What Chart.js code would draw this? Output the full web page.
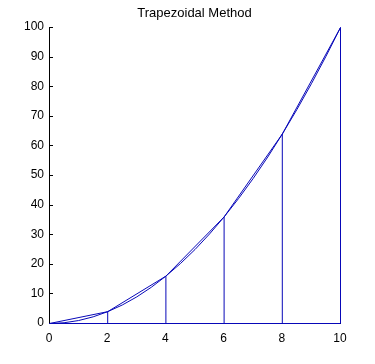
<!DOCTYPE html>
<html>
<head>
<meta charset="utf-8">
<script src="https://cdn.jsdelivr.net/npm/chart.js@4/dist/chart.umd.min.js"></script>
<style>
html,body{margin:0;padding:0;background:#fff;}
#wrap{width:375px;height:364px;position:relative;}
</style>
</head>
<body>
<div id="wrap"><canvas id="c" width="375" height="364"></canvas></div>
<script>
const chartTitle = "Trapezoidal Method";
const curveX = [0,0.5,1,1.5,2,2.5,3,3.5,4,4.5,5,5.5,6,6.5,7,7.5,8,8.5,9,9.5,10];
const curveY = [0,0.25,1,2.25,4,6.25,9,12.25,16,20.25,25,30.25,36,42.25,49,56.25,64,72.25,81,90.25,100];
const nodeX = [0,2,4,6,8,10];
const nodeY = [0,4,16,36,64,100];
const xTicks = [0,2,4,6,8,10];
const yTicks = [0,10,20,30,40,50,60,70,80,90,100];

const BLUE = '#0808b8';
const FONT = 'Liberation Sans, Arial, sans-serif';
const toPts = (xs, ys) => xs.map((x,i)=>({x:x, y:ys[i]}));

const vertPts = [];
nodeX.forEach((x,i)=>{ if(i>0){ vertPts.push({x:x,y:0}); vertPts.push({x:x,y:nodeY[i]}); vertPts.push({x:x,y:null}); } });
const basePts = [{x:nodeX[0],y:0},{x:nodeX[nodeX.length-1],y:0}];

const decor = {
  id:'decor',
  beforeDatasetsDraw(chart){
    const ctx = chart.ctx, ys = chart.scales.y, a = chart.chartArea;
    ctx.save();
    ctx.strokeStyle = '#000'; ctx.lineWidth = 1;
    ctx.beginPath();
    yTicks.forEach(v=>{ const py = Math.round(ys.getPixelForValue(v))+0.5; ctx.moveTo(a.left, py); ctx.lineTo(a.left+4, py); });
    ctx.stroke();
    ctx.restore();
    ctx.save();
    ctx.translate(0.5, 0.5);
  },
  afterDatasetsDraw(chart){
    chart.ctx.restore();
    const ctx = chart.ctx, a = chart.chartArea;
    ctx.save();
    ctx.fillStyle = '#000';
    ctx.font = '13px ' + FONT;
    ctx.textAlign = 'center';
    ctx.textBaseline = 'middle';
    ctx.fillText(chartTitle, (a.left + a.right)/2, 13);
    ctx.restore();
  }
};

const ds = (data)=>({data:data, showLine:true, borderColor:BLUE, backgroundColor:BLUE, borderWidth:1, pointRadius:0, tension:0, spanGaps:false, fill:false, clip:4});

new Chart(document.getElementById('c'), {
  type:'scatter',
  data:{ datasets:[ ds(toPts(curveX,curveY)), ds(toPts(nodeX,nodeY)), ds(vertPts), ds(basePts) ] },
  options:{
    responsive:false, animation:false,
    layout:{ padding:{left:0,right:35,top:27,bottom:0} },
    plugins:{
      legend:{display:false}, tooltip:{enabled:false}, title:{display:false}
    },
    scales:{
      x:{ type:'linear', min:0, max:10,
          afterFit(s){ s.height = 41; },
          afterBuildTicks(s){ s.ticks = xTicks.map(v=>({value:v})); },
          grid:{ drawOnChartArea:false, drawTicks:false },
          border:{ display:true, color:'#000', width:1 },
          ticks:{ color:'#000', padding:8, maxRotation:0, font:{family:FONT, size:12} } },
      y:{ type:'linear', min:0, max:100,
          afterFit(s){ s.width = 49; },
          afterBuildTicks(s){ s.ticks = yTicks.map(v=>({value:v})); },
          grid:{ drawOnChartArea:false, drawTicks:false },
          border:{ display:true, color:'#000', width:1 },
          ticks:{ color:'#000', padding:5, font:{family:FONT, size:12} } }
    }
  },
  plugins:[decor]
});
</script>
</body>
</html>
